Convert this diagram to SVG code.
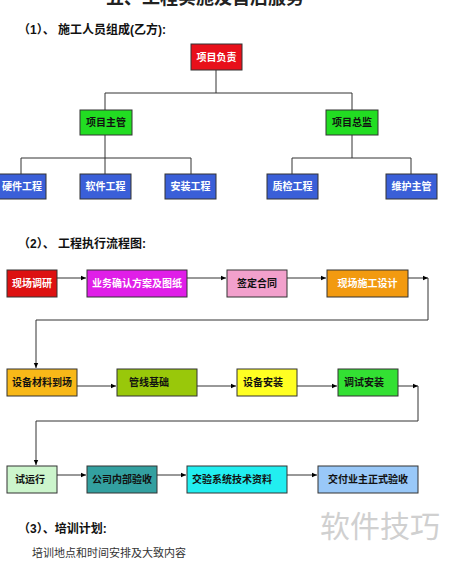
<svg xmlns="http://www.w3.org/2000/svg" width="450" height="564" viewBox="0 0 450 564">
<defs>
<marker id="ah" markerWidth="6" markerHeight="6" refX="5" refY="3" orient="auto" markerUnits="userSpaceOnUse">
<path d="M0,0.8 L5,3 L0,5.2 Z" fill="#000"/>
</marker>
<style>
.box{stroke:#333;stroke-width:1}
.t{font-family:"Liberation Sans","Noto Sans CJK SC",sans-serif;font-size:10px;font-weight:bold;text-anchor:middle;dominant-baseline:central}
.w{fill:#fff}
.k{fill:#111}
.h{font-family:"Liberation Sans","Noto Sans CJK SC",sans-serif;font-size:12px;font-weight:bold;fill:#111}
.ln{fill:none;stroke:#333;stroke-width:1}
</style>
</defs>
<rect width="450" height="564" fill="#fff"/>
<text x="205" y="4" style="font-family:'Liberation Serif','Noto Sans CJK SC',serif;font-size:18px;font-weight:bold;fill:#222" text-anchor="middle">五、工程实施及售后服务</text>
<text class="h" x="18" y="34">（1）、 施工人员组成(乙方):</text>
<text class="h" x="18" y="248">（2）、 工程执行流程图:</text>
<text class="h" x="18" y="533">（3）、培训计划:</text>
<text x="32" y="557" style="font-family:'Liberation Sans','Noto Sans CJK SC',sans-serif;font-size:11px;fill:#333">培训地点和时间安排及大致内容</text>
<text x="320" y="537" style="font-family:'Noto Sans CJK SC',sans-serif;font-size:30px;fill:#d0d0d0">软件技巧</text>

<g id="connectors">
<path class="ln" d="M216,70 V93 M105,93 H352 M105,93 V110 M352,93 V110"/>
<path class="ln" d="M105,135 V158 M21,158 H191 M21,158 V174 M105,158 V174 M191,158 V174"/>
<path class="ln" d="M352,135 V158 M292,158 H411 M292,158 V174 M411,158 V174"/>
<path class="ln" d="M57,278 H86" marker-end="url(#ah)"/>
<path class="ln" d="M187,278 H226" marker-end="url(#ah)"/>
<path class="ln" d="M287,278 H326" marker-end="url(#ah)"/>
<path class="ln" d="M408,278 H428" marker-end="url(#ah)"/>
<path class="ln" d="M428,278 V320 H36 V368" marker-end="url(#ah)"/>
<path class="ln" d="M77,386 H116" marker-end="url(#ah)"/>
<path class="ln" d="M197,386 H236" marker-end="url(#ah)"/>
<path class="ln" d="M297,386 H337" marker-end="url(#ah)"/>
<path class="ln" d="M398,386 H418" marker-end="url(#ah)"/>
<path class="ln" d="M418,386 V421 H36 V465" marker-end="url(#ah)"/>
<path class="ln" d="M57,475 H86" marker-end="url(#ah)"/>
<path class="ln" d="M157,475 H186" marker-end="url(#ah)"/>
<path class="ln" d="M287,475 H317" marker-end="url(#ah)"/>
</g>

<g id="n-fuze"><rect class="box" x="191" y="44" width="51" height="26" fill="#e8101a"/><text class="t w" x="216.5" y="57">项目负责</text></g>
<g id="n-zhuguan"><rect class="box" x="80" y="110" width="52" height="25" fill="#22dd22"/><text class="t k" x="106" y="122.5">项目主管</text></g>
<g id="n-zongjian"><rect class="box" x="326" y="110" width="52" height="25" fill="#22dd22"/><text class="t k" x="352" y="122.5">项目总监</text></g>
<g id="n-yingjian"><rect class="box" x="-5" y="174" width="51" height="25" fill="#3a5fd8"/><text class="t w" x="22" y="186.5">硬件工程</text></g>
<g id="n-ruanjian"><rect class="box" x="80" y="174" width="51" height="25" fill="#3a5fd8"/><text class="t w" x="105.5" y="186.5">软件工程</text></g>
<g id="n-anzhuang"><rect class="box" x="165" y="174" width="51" height="25" fill="#3a5fd8"/><text class="t w" x="190.5" y="186.5">安装工程</text></g>
<g id="n-zhijian"><rect class="box" x="267" y="174" width="51" height="25" fill="#3a5fd8"/><text class="t w" x="292.5" y="186.5">质检工程</text></g>
<g id="n-weihu"><rect class="box" x="386" y="174" width="51" height="25" fill="#3a5fd8"/><text class="t w" x="411.5" y="186.5">维护主管</text></g>

<g id="s1"><rect class="box" x="7" y="270" width="50" height="27" fill="#dd1111"/><text class="t w" x="32" y="283.5">现场调研</text></g>
<g id="s2"><rect class="box" x="87" y="270" width="100" height="27" fill="#e01ee8"/><text class="t w" x="137" y="283.5">业务确认方案及图纸</text></g>
<g id="s3"><rect class="box" x="227" y="270" width="60" height="27" fill="#f2a0cc"/><text class="t k" x="257" y="283.5">签定合同</text></g>
<g id="s4"><rect class="box" x="327" y="270" width="81" height="27" fill="#f29a10"/><text class="t w" x="367.5" y="283.5">现场施工设计</text></g>
<g id="s5"><rect class="box" x="7" y="369" width="70" height="27" fill="#f8b818"/><text class="t k" x="42" y="382.5">设备材料到场</text></g>
<g id="s6"><rect class="box" x="117" y="369" width="80" height="27" fill="#99c80a"/><text class="t k" x="149" y="382.5">管线基础</text></g>
<g id="s7"><rect class="box" x="237" y="369" width="60" height="27" fill="#ffff22"/><text class="t k" x="263" y="382.5">设备安装</text></g>
<g id="s8"><rect class="box" x="338" y="369" width="60" height="27" fill="#33e033"/><text class="t k" x="364" y="382.5">调试安装</text></g>
<g id="s9"><rect class="box" x="7" y="466" width="50" height="27" fill="#ccf5cc"/><text class="t k" x="30" y="479.5">试运行</text></g>
<g id="s10"><rect class="box" x="87" y="466" width="70" height="27" fill="#33a0a0"/><text class="t k" x="122" y="479.5">公司内部验收</text></g>
<g id="s11"><rect class="box" x="187" y="466" width="100" height="27" fill="#22eef0"/><text class="t k" x="232" y="479.5">交验系统技术资料</text></g>
<g id="s12"><rect class="box" x="318" y="466" width="100" height="27" fill="#99c8f8"/><text class="t k" x="368" y="479.5">交付业主正式验收</text></g>
</svg>
